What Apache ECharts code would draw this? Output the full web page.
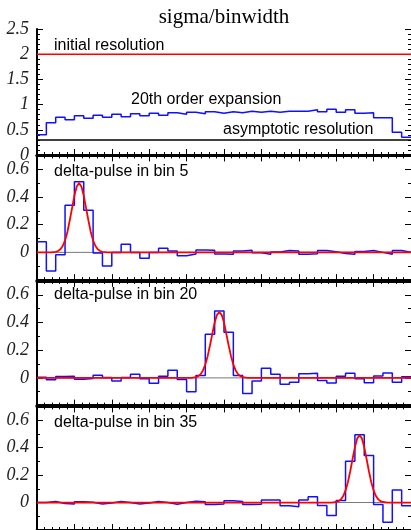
<!DOCTYPE html>
<html>
<head>
<meta charset="UTF-8">
<title>sigma/binwidth</title>
<script src="https://cdn.jsdelivr.net/npm/echarts@6.0.0/dist/echarts.min.js"></script>
<style>
body{margin:0;background:#fff;}
#main{width:411px;height:530px;}
</style>
</head>
<body>
<div id="main"></div>
<script type="text/javascript">
// resolution per bin (20th order expansion), 40 bins
var sigmaHist = [0.40,0.64,0.75,0.70,0.78,0.73,0.79,0.75,0.81,0.76,0.82,0.78,0.83,0.79,0.84,0.81,0.85,0.82,0.86,0.83,
                 0.86,0.84,0.87,0.85,0.87,0.85,0.87,0.87,0.87,0.90,0.86,0.91,0.85,0.90,0.83,0.84,0.74,0.74,0.45,0.35];
var initialRes = 2;
var asymptoticRes = 0.3;

// unfolded delta pulses
var pulse5 = [0.077,-0.135,-0.017,0.34,0.51,0.305,-0.004,-0.099,0.0,0.058,0.0,-0.043,0.0,0.029,0.01,-0.025,-0.012,0.017,0.015,-0.012,
              -0.014,0.01,0.016,-0.003,-0.014,0.002,0.014,0.01,-0.014,-0.01,0.013,0.005,-0.008,-0.014,0.007,0.014,0.0,-0.014,0.014,0.0];
var pulse20 = [0.005,-0.014,0.01,0.012,-0.01,-0.005,0.019,0.002,-0.022,0.002,0.026,-0.007,-0.038,0.012,0.055,-0.012,-0.10,0.017,0.315,0.482,
               0.33,0.018,-0.113,-0.022,0.07,0.026,-0.046,-0.031,0.029,0.034,-0.019,-0.036,0.012,0.034,-0.007,-0.035,0.013,0.036,-0.032,0.008];
var pulse35 = [0.0,0.007,-0.007,-0.01,0.005,0.002,-0.01,-0.004,0.007,0.0,-0.01,-0.004,0.007,0.0,-0.012,0.0,0.01,0.005,-0.014,-0.01,
               0.013,0.007,-0.015,-0.012,0.018,0.018,-0.023,-0.031,0.019,0.043,-0.021,-0.095,0.014,0.30,0.493,0.343,-0.015,-0.144,0.092,-0.024];

// red resolution curves, read at offsets (in bins) from the pulse centre
var curveOffsets = [-3,-2.5,-2.25,-2,-1.75,-1.5,-1.25,-1,-0.75,-0.5,-0.25,0,0.25,0.5,0.75,1,1.25,1.5,1.75,2,2.25,2.5,3];
var curve5  = [0,0.004,0.01,0.022,0.046,0.086,0.147,0.23,0.32,0.41,0.476,0.50,0.476,0.41,0.32,0.23,0.147,0.086,0.046,0.022,0.01,0.004,0];
var curve20 = [0,0.005,0.013,0.027,0.054,0.096,0.157,0.234,0.318,0.40,0.455,0.475,0.455,0.40,0.318,0.234,0.157,0.096,0.054,0.027,0.013,0.005,0];
var curve35 = [0,0.004,0.01,0.023,0.047,0.088,0.148,0.228,0.317,0.404,0.467,0.49,0.467,0.404,0.317,0.228,0.148,0.088,0.047,0.023,0.01,0.004,0];
var pulseCentres = [4.5, 19.5, 34.5];
var pulseTitles = ['delta-pulse in bin 5','delta-pulse in bin 20','delta-pulse in bin 35'];
var nBins = 40;

function histData(vals){
	var d = [];
	for(var i=0;i<vals.length;i++){
		d.push([i, vals[i]]);
	}
	d.push([vals.length, vals[vals.length-1]]);
	return d;
}

function curveData(centre, vals){
	var d = [[0,0]];
	for(var i=0;i<curveOffsets.length;i++){
		d.push([centre+curveOffsets[i], vals[i]]);
	}
	d.push([nBins,0]);
	return d;
}

var gridTops = [29, 155.4, 280.9, 406.4];
var gridHeights = [126, 124.7, 124.7, 124.7];

var grids = [], xAxes = [], yAxes = [], series = [];
for(var g=0; g<4; g++){
	grids.push({left:37, top:gridTops[g], width:377, height:gridHeights[g]});
	var xa = {
		type:'value', gridIndex:g, min:0, max:nBins, interval:4, position:'bottom',
		axisLine:{show:true, onZero:false, lineStyle:{color:'#000', width:3}},
		axisTick:{show:true, inside:true, length:6, lineStyle:{color:'#000', width:1}},
		minorTick:{show:true, splitNumber:5, length:3, lineStyle:{color:'#000', width:1}},
		axisLabel:{show:false}, splitLine:{show:false}
	};
	xAxes.push(xa);
	if(g>0){
		var xt = JSON.parse(JSON.stringify(xa));
		xt.position = 'top';
		xAxes.push(xt);
	}
	var isTop = (g==0);
	yAxes.push({
		type:'value', gridIndex:g, position:'left',
		min: isTop ? 0 : -0.2, max: isTop ? 2.5 : 0.7, interval: isTop ? 0.5 : 0.2,
		axisLine:{show:true, onZero:false, lineStyle:{color:'#000', width:2}},
		axisTick:{show:true, inside:true, length:6, lineStyle:{color:'#000'}},
		minorTick:{show:true, splitNumber: isTop ? 5 : 2, length:3, lineStyle:{color:'#000'}},
		axisLabel:{
			show:true, margin:8, showMinLabel: isTop, showMaxLabel: isTop,
			fontFamily:'Liberation Serif', fontStyle:'italic', fontSize:18, color:'#222'
		},
		splitLine:{show:false}
	});
	yAxes.push({
		type:'value', gridIndex:g, position:'right',
		min: isTop ? 0 : -0.2, max: isTop ? 2.5 : 0.7, interval: isTop ? 0.5 : 0.2,
		axisLine:{show:false, onZero:false},
		axisTick:{show:true, inside:true, length:6, lineStyle:{color:'#000'}},
		minorTick:{show:true, splitNumber: isTop ? 5 : 2, length:3, lineStyle:{color:'#000'}},
		axisLabel:{show:false}, splitLine:{show:false}
	});
}

function xIndexFor(g){ return g==0 ? 0 : 2*g - 1; }

// top panel
series.push({type:'line', xAxisIndex:0, yAxisIndex:0, data:[[0,initialRes],[nBins,initialRes]],
	symbol:'none', silent:true, lineStyle:{color:'#ff0000', width:1.5}});
series.push({type:'line', xAxisIndex:0, yAxisIndex:0, data:[[0,asymptoticRes],[nBins,asymptoticRes]],
	symbol:'none', silent:true, lineStyle:{color:'#000', width:1.5}});
series.push({type:'line', xAxisIndex:0, yAxisIndex:0, data:histData(sigmaHist), step:'end',
	symbol:'none', silent:true, lineStyle:{color:'#1010ff', width:1.5}});

var pulses = [pulse5, pulse20, pulse35];
var curves = [curve5, curve20, curve35];
for(var p=0; p<3; p++){
	var g2 = p+1;
	series.push({type:'line', xAxisIndex:xIndexFor(g2), yAxisIndex:2*g2, data:[[0,0],[nBins,0]],
		symbol:'none', silent:true, lineStyle:{color:'#777', width:1}});
	series.push({type:'line', xAxisIndex:xIndexFor(g2), yAxisIndex:2*g2, data:histData(pulses[p]), step:'end',
		symbol:'none', silent:true, lineStyle:{color:'#1010ff', width:1.5}});
	series.push({type:'line', xAxisIndex:xIndexFor(g2), yAxisIndex:2*g2, data:curveData(pulseCentres[p], curves[p]),
		symbol:'none', silent:true, lineStyle:{color:'#ff0000', width:1.8}});
}

function label(txt, x, y){
	return {type:'text', x:x, y:y, z:100, style:{text:txt, font:'16px "Liberation Sans"', fill:'#000', textAlign:'left', textVerticalAlign:'middle'}};
}

var graphics = [
	{type:'text', x:224, y:17, style:{text:'sigma/binwidth', font:'21px "Liberation Serif"', fill:'#000', textAlign:'center', textVerticalAlign:'middle'}},
	label('initial resolution', 54, 45.5),
	label('20th order expansion', 131, 100),
	label('asymptotic resolution', 223, 130),
	label(pulseTitles[0], 54, 172),
	label(pulseTitles[1], 54, 295),
	label(pulseTitles[2], 54, 423)
];

var myChart = echarts.init(document.getElementById('main'));
myChart.setOption({
	animation:false,
	grid:grids,
	xAxis:xAxes,
	yAxis:yAxes,
	series:series,
	graphic:graphics
});
</script>
</body>
</html>
